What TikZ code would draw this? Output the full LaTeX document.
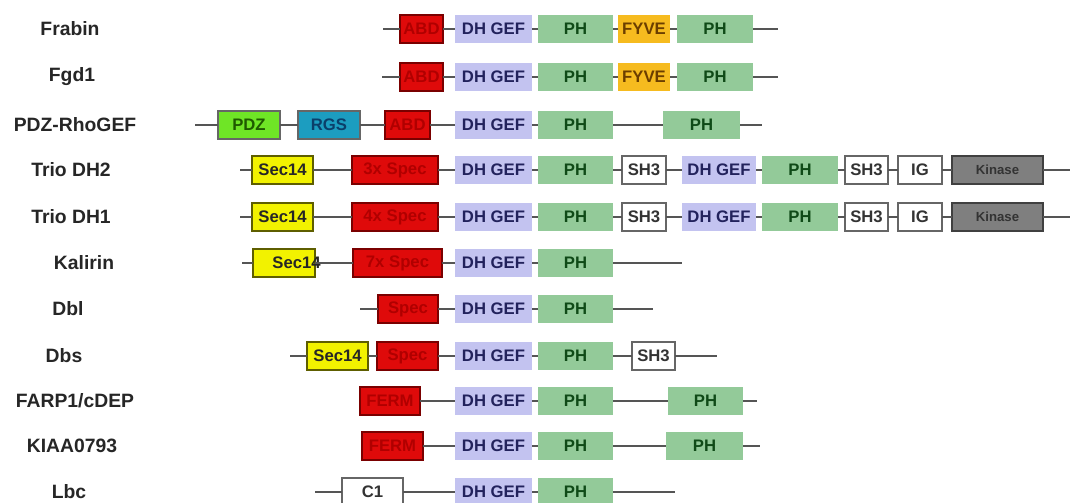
\documentclass[tikz,border=0pt]{standalone}
\usepackage{fontspec}
\setmainfont{Liberation Sans}
\usepackage{xcolor}
\usetikzlibrary{positioning}

\definecolor{abdred}{HTML}{DF0A0A}
\definecolor{abdline}{HTML}{7A0000}
\definecolor{abdtext}{HTML}{B00000}
\definecolor{gefblue}{HTML}{C3C3F0}
\definecolor{geftext}{HTML}{22225C}
\definecolor{phgreen}{HTML}{93CA99}
\definecolor{phtext}{HTML}{0F4A17}
\definecolor{fyveor}{HTML}{F6BB1F}
\definecolor{fyvetext}{HTML}{6B3E00}
\definecolor{pdzgreen}{HTML}{6FE526}
\definecolor{pdztext}{HTML}{1F5A00}
\definecolor{rgsblue}{HTML}{1C9DC0}
\definecolor{rgstext}{HTML}{0B3F6A}
\definecolor{secyel}{HTML}{F2F200}
\definecolor{secline}{HTML}{5E5E00}
\definecolor{kingray}{HTML}{7F7F7F}
\definecolor{kintext}{HTML}{333333}
\definecolor{bbgray}{HTML}{555555}

\begin{document}
\begin{tikzpicture}[x=0.02cm, y=-0.02cm,
    dom/.style={rectangle, anchor=west, inner sep=0pt, outer sep=0pt,
                minimum height=5.6mm, line width=0.6pt,
                font=\bfseries\fontsize{9.5}{10}\selectfont},
    boxw/.style={minimum width=#1*0.02cm},
    abd/.style={dom, fill=abdred, draw=abdline, text=abdtext},
    gef/.style={dom, fill=gefblue, text=geftext},
    ph/.style={dom, fill=phgreen, text=phtext},
    fyve/.style={dom, fill=fyveor, text=fyvetext},
    pdz/.style={dom, fill=pdzgreen, draw=black!60, text=pdztext},
    rgs/.style={dom, fill=rgsblue, draw=black!60, text=rgstext},
    sec/.style={dom, fill=secyel, draw=secline, text=black!85},
    plain/.style={dom, fill=white, draw=black!60, text=black!80},
    kin/.style={dom, fill=kingray, draw=black!75, text=kintext,
                font=\bfseries\fontsize{7.5}{8}\selectfont},
    gene/.style={font=\bfseries\fontsize{11}{12}\selectfont, text=black!85},
    bb/.style={draw=bbgray, line width=1pt},
  ]
    \useasboundingbox[fill=white] (0,0) rectangle (1072,503);

    % gene names
    \node[gene] (lfrabin) at (70,29) {Frabin};
    \node[gene] (lfgd) at (72,77) {Fgd1};
    \node[gene] (lpdz) at (75,125) {PDZ-RhoGEF};
    \node[gene] (ltrio2) at (71,170) {Trio DH2};
    \node[gene] (ltrio1) at (71,217) {Trio DH1};
    \node[gene] (lkal) at (84,263) {Kalirin};
    \node[gene] (ldbl) at (68,309) {Dbl};
    \node[gene] (ldbs) at (64,356) {Dbs};
    \node[gene] (lfarp) at (75,401) {FARP1/cDEP};
    \node[gene] (lkiaa) at (72,446) {KIAA0793};
    \node[gene] (llbc) at (69,492) {Lbc};

    % Frabin
    \coordinate (s1) at (383,29);
    \node[abd, boxw=43] (abd1) at (400,29) {ABD};
    \node[gef, boxw=77] (gef1) at (455,29) {DH GEF};
    \node[ph, boxw=75] (pha1) at (538,29) {PH};
    \node[fyve, boxw=52] (fyve1) at (618,29) {FYVE};
    \node[ph, boxw=76] (phb1) at (677,29) {PH};
    \coordinate (e1) at (778,29);
    \draw[bb] (s1) -- (abd1) -- (gef1) -- (pha1) -- (fyve1) -- (phb1) -- (e1);

    % Fgd1
    \coordinate (s2) at (382,77);
    \node[abd, boxw=43] (abd2) at (400,77) {ABD};
    \node[gef, boxw=77] (gef2) at (455,77) {DH GEF};
    \node[ph, boxw=75] (pha2) at (538,77) {PH};
    \node[fyve, boxw=52] (fyve2) at (618,77) {FYVE};
    \node[ph, boxw=76] (phb2) at (677,77) {PH};
    \coordinate (e2) at (778,77);
    \draw[bb] (s2) -- (abd2) -- (gef2) -- (pha2) -- (fyve2) -- (phb2) -- (e2);

    % PDZ-RhoGEF
    \coordinate (s3) at (195,125);
    \node[pdz, boxw=62] (pdz3) at (218,125) {PDZ};
    \node[rgs, boxw=62] (rgs3) at (298,125) {RGS};
    \node[abd, boxw=45] (abd3) at (385,125) {ABD};
    \node[gef, boxw=77] (gef3) at (455,125) {DH GEF};
    \node[ph, boxw=75] (pha3) at (538,125) {PH};
    \node[ph, boxw=77] (phb3) at (663,125) {PH};
    \coordinate (e3) at (762,125);
    \draw[bb] (s3) -- (pdz3) -- (rgs3) -- (abd3) -- (gef3) -- (pha3) -- (phb3) -- (e3);

    % Trio DH2
    \coordinate (s4) at (240,170);
    \node[sec, boxw=61] (sec4) at (252,170) {Sec14};
    \node[abd, boxw=86] (spec4) at (352,170) {3x Spec};
    \node[gef, boxw=77] (gef4) at (455,170) {DH GEF};
    \node[ph, boxw=75] (pha4) at (538,170) {PH};
    \node[plain, boxw=44] (sha4) at (622,170) {SH3};
    \node[gef, boxw=74] (gefb4) at (682,170) {DH GEF};
    \node[ph, boxw=76] (phb4) at (762,170) {PH};
    \node[plain, boxw=43] (shb4) at (845,170) {SH3};
    \node[plain, boxw=44] (ig4) at (898,170) {IG};
    \node[kin, boxw=91] (kin4) at (952,170) {Kinase};
    \coordinate (e4) at (1070,170);
    \draw[bb] (s4) -- (sec4) -- (spec4) -- (gef4) -- (pha4) -- (sha4) -- (gefb4)
              -- (phb4) -- (shb4) -- (ig4) -- (kin4) -- (e4);

    % Trio DH1
    \coordinate (s5) at (240,217);
    \node[sec, boxw=61] (sec5) at (252,217) {Sec14};
    \node[abd, boxw=86] (spec5) at (352,217) {4x Spec};
    \node[gef, boxw=77] (gef5) at (455,217) {DH GEF};
    \node[ph, boxw=75] (pha5) at (538,217) {PH};
    \node[plain, boxw=44] (sha5) at (622,217) {SH3};
    \node[gef, boxw=74] (gefb5) at (682,217) {DH GEF};
    \node[ph, boxw=76] (phb5) at (762,217) {PH};
    \node[plain, boxw=43] (shb5) at (845,217) {SH3};
    \node[plain, boxw=44] (ig5) at (898,217) {IG};
    \node[kin, boxw=91] (kin5) at (952,217) {Kinase};
    \coordinate (e5) at (1070,217);
    \draw[bb] (s5) -- (sec5) -- (spec5) -- (gef5) -- (pha5) -- (sha5) -- (gefb5)
              -- (phb5) -- (shb5) -- (ig5) -- (kin5) -- (e5);

    % Kalirin
    \coordinate (s6) at (242,263);
    \node[sec, boxw=62] (sec6) at (253,263) {\hspace*{9pt}Sec1\rlap{4}};
    \node[abd, boxw=89] (spec6) at (353,263) {7x Spec};
    \node[gef, boxw=77] (gef6) at (455,263) {DH GEF};
    \node[ph, boxw=75] (pha6) at (538,263) {PH};
    \coordinate (e6) at (682,263);
    \draw[bb] (s6) -- (sec6) -- (spec6) -- (gef6) -- (pha6) -- (e6);

    % Dbl
    \coordinate (s7) at (360,309);
    \node[abd, boxw=60] (spec7) at (378,309) {Spec};
    \node[gef, boxw=77] (gef7) at (455,309) {DH GEF};
    \node[ph, boxw=75] (pha7) at (538,309) {PH};
    \coordinate (e7) at (653,309);
    \draw[bb] (s7) -- (spec7) -- (gef7) -- (pha7) -- (e7);

    % Dbs
    \coordinate (s8) at (290,356);
    \node[sec, boxw=61] (sec8) at (307,356) {Sec14};
    \node[abd, boxw=61] (spec8) at (377,356) {Spec};
    \node[gef, boxw=77] (gef8) at (455,356) {DH GEF};
    \node[ph, boxw=75] (pha8) at (538,356) {PH};
    \node[plain, boxw=43] (sh8) at (632,356) {SH3};
    \coordinate (e8) at (717,356);
    \draw[bb] (s8) -- (sec8) -- (spec8) -- (gef8) -- (pha8) -- (sh8) -- (e8);

    % FARP1/cDEP
    \node[abd, boxw=60] (ferm9) at (360,401) {FERM};
    \node[gef, boxw=77] (gef9) at (455,401) {DH GEF};
    \node[ph, boxw=75] (pha9) at (538,401) {PH};
    \node[ph, boxw=75] (phb9) at (668,401) {PH};
    \coordinate (e9) at (757,401);
    \draw[bb] (ferm9) -- (gef9) -- (pha9) -- (phb9) -- (e9);

    % KIAA0793
    \node[abd, boxw=61] (ferm10) at (362,446) {FERM};
    \node[gef, boxw=77] (gef10) at (455,446) {DH GEF};
    \node[ph, boxw=75] (pha10) at (538,446) {PH};
    \node[ph, boxw=77] (phb10) at (666,446) {PH};
    \coordinate (e10) at (760,446);
    \draw[bb] (ferm10) -- (gef10) -- (pha10) -- (phb10) -- (e10);

    % Lbc
    \coordinate (s11) at (315,492);
    \node[plain, boxw=61] (c111) at (342,492) {C1};
    \node[gef, boxw=77] (gef11) at (455,492) {DH GEF};
    \node[ph, boxw=75] (pha11) at (538,492) {PH};
    \coordinate (e11) at (675,492);
    \draw[bb] (s11) -- (c111) -- (gef11) -- (pha11) -- (e11);
  \end{tikzpicture}
\end{document}
